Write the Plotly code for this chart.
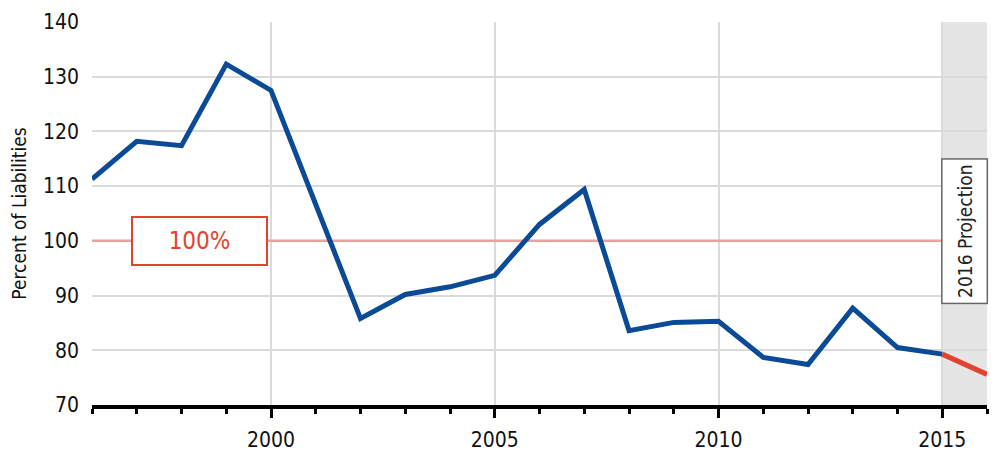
import plotly.graph_objects as go

years = list(range(1996, 2016))
funded = [111.3, 118.2, 117.4, 132.3, 127.5, 106.8, 85.8, 90.2, 91.6, 93.7,
          103.0, 109.4, 83.6, 85.1, 85.3, 78.7, 77.4, 87.7, 80.5, 79.3]
proj_years = [2015, 2016]
proj_values = [79.3, 75.6]
ref_years = [1996, 2015]
ref_values = [100, 100]

FONT = "DejaVu Sans Condensed, sans-serif"
BLUE = "#0a4a96"
RED = "#e0432f"

fig = go.Figure()
fig.add_trace(go.Scatter(x=ref_years, y=ref_values, mode="lines",
                         line=dict(color="#eba39c", width=2.5), hoverinfo="skip"))
fig.add_trace(go.Scatter(x=years, y=funded, mode="lines",
                         line=dict(color=BLUE, width=5)))
fig.add_trace(go.Scatter(x=proj_years, y=proj_values, mode="lines",
                         line=dict(color=RED, width=5)))

fig.add_shape(type="rect", xref="x", yref="paper", x0=2015, x1=2016, y0=0, y1=1,
              fillcolor="#e5e5e5", line=dict(width=0), layer="below")

fig.add_annotation(x=1998.4, y=100, xref="x", yref="y", text="100%", showarrow=False,
                   font=dict(family=FONT, size=24, color=RED),
                   bgcolor="white", bordercolor=RED, borderwidth=2,
                   width=131, height=44)
fig.add_annotation(x=2015.5, y=101.7, xref="x", yref="y", text="2016 Projection",
                   textangle=-90, showarrow=False,
                   font=dict(family=FONT, size=19, color="#222"),
                   bgcolor="white", bordercolor="#666", borderwidth=1.5,
                   width=141, height=42)

fig.update_layout(
    width=1000, height=455,
    margin=dict(l=84, r=21, t=14, b=58, autoexpand=False),
    paper_bgcolor="white", plot_bgcolor="white",
    showlegend=False,
    font=dict(family=FONT, size=21, color="#111"),
    xaxis=dict(range=[1996, 2016], tick0=2000, dtick=5, showgrid=True,
               gridcolor="#dadada", gridwidth=1.5, automargin=False,
               ticks="outside", ticklen=9, tickwidth=2.5, tickcolor="black",
               showline=True, linecolor="black", linewidth=3.5,
               ticklabelstandoff=4,
               minor=dict(dtick=1, tick0=1996, ticks="outside", ticklen=5,
                          tickwidth=2.5, tickcolor="black", showgrid=False),
               tickfont=dict(family=FONT, size=21), zeroline=False),
    yaxis=dict(range=[70, 140], dtick=10, showgrid=True, gridcolor="#dadada",
               gridwidth=1.5, zeroline=False, ticks="", showline=False,
               ticklabelstandoff=12, automargin=False,
               tickfont=dict(family=FONT, size=21),
               title=dict(text="Percent of Liabilities", standoff=14,
                          font=dict(family=FONT, size=19))),
)

fig.write_html("out.html")
